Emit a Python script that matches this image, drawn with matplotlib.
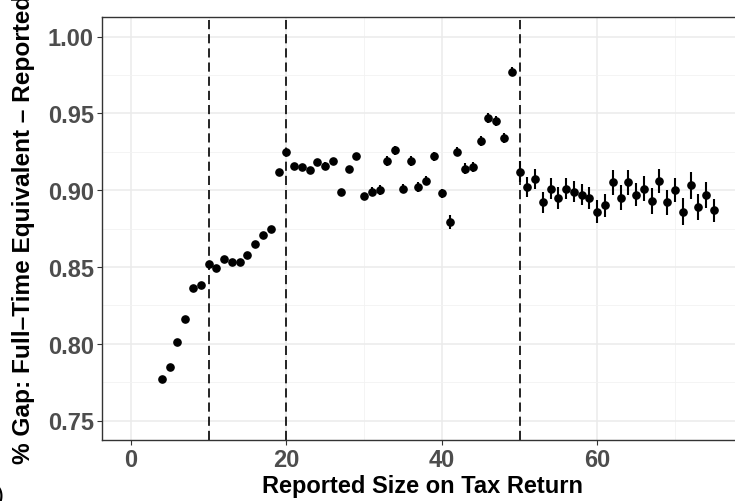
import matplotlib
matplotlib.use("Agg")
import matplotlib.pyplot as plt
from matplotlib.ticker import MultipleLocator

plt.rcParams['font.family'] = ['Liberation Sans', 'DejaVu Sans']

sizes = list(range(4, 76))
gap = [0.777, 0.785, 0.801, 0.816, 0.836, 0.838, 0.852, 0.849, 0.855, 0.853,
       0.853, 0.858, 0.865, 0.871, 0.875, 0.912, 0.925, 0.916, 0.915, 0.913,
       0.918, 0.916, 0.919, 0.899, 0.914, 0.922, 0.896, 0.899, 0.900, 0.919,
       0.926, 0.901, 0.919, 0.902, 0.906, 0.922, 0.898, 0.879, 0.925, 0.914,
       0.915, 0.932, 0.947, 0.945, 0.934, 0.977, 0.912, 0.902, 0.907, 0.892,
       0.901, 0.895, 0.901, 0.899, 0.897, 0.895, 0.886, 0.890, 0.905, 0.895,
       0.905, 0.897, 0.901, 0.893, 0.906, 0.892, 0.900, 0.886, 0.903, 0.889,
       0.897, 0.887]
err = [0.001] * 15 + [0.0015] * 6 + [0.002] * 6 + [0.003] * 10 + \
      [0.0045, 0.003, 0.0038, 0.0035, 0.0035, 0.0035, 0.0035, 0.0035, 0.003] + \
      [0.007, 0.0065, 0.0065, 0.007, 0.007, 0.007, 0.007, 0.007, 0.007, 0.007,
       0.0075, 0.0075, 0.008, 0.008, 0.008, 0.0075, 0.008, 0.0085, 0.008, 0.008,
       0.008, 0.009, 0.009, 0.0085, 0.0085, 0.0075]
cutoffs = [10, 20, 50]
xticks = [0, 20, 40, 60]
yticks = [0.75, 0.80, 0.85, 0.90, 0.95, 1.00]
xlabel = "Reported Size on Tax Return"
ylabel = "% Gap: Full\u2013Time Equivalent \u2013 Reported"

W, H = 735, 502
fig = plt.figure(figsize=(W / 100, H / 100), dpi=100)
ax = fig.add_axes([101.7 / W, (H - 440.7) / H, (743 - 101.7) / W, (440.7 - 18.3) / H])

ax.set_xlim(-3.75, 78.75)
ax.set_ylim(0.7375, 1.0125)
ax.set_xticks(xticks)
ax.set_yticks(yticks)
ax.set_yticklabels([f"{v:.2f}" for v in yticks])
ax.xaxis.set_minor_locator(MultipleLocator(10))
ax.yaxis.set_minor_locator(MultipleLocator(0.025))
ax.grid(which='major', color='#EBEBEB', lw=1.1, zorder=0)
ax.grid(which='minor', color='#F2F2F2', lw=0.6, zorder=0)
ax.set_axisbelow(True)
ax.tick_params(which='minor', length=0)
ax.tick_params(which='major', length=3.3, width=0.8, color='#333333',
               labelcolor='#4D4D4D', labelsize=17, pad=2.5)
for lab in ax.get_xticklabels() + ax.get_yticklabels():
    lab.set_fontweight('bold')
for s in ax.spines.values():
    s.set_color('#333333')
    s.set_linewidth(1.0)

for c in cutoffs:
    ax.axvline(c, color='black', lw=1.2, linestyle=(0, (5.5, 3)), zorder=2)

ax.errorbar(sizes, gap, yerr=err, fmt='o', color='black', ms=5.2,
            elinewidth=1.5, capsize=0, zorder=3)

fig.text(422 / W, 9 / H, xlabel, ha='center', va='baseline',
         fontsize=17, fontweight='bold')
fig.text(24 / W, (H - 229) / H, ylabel, ha='center', va='center',
         rotation=90, fontsize=17.6, fontweight='bold')
fig.text(-4 / W, -5 / H, ")", ha='left', va='bottom', fontsize=17)

fig.savefig("out.png", dpi=100)
